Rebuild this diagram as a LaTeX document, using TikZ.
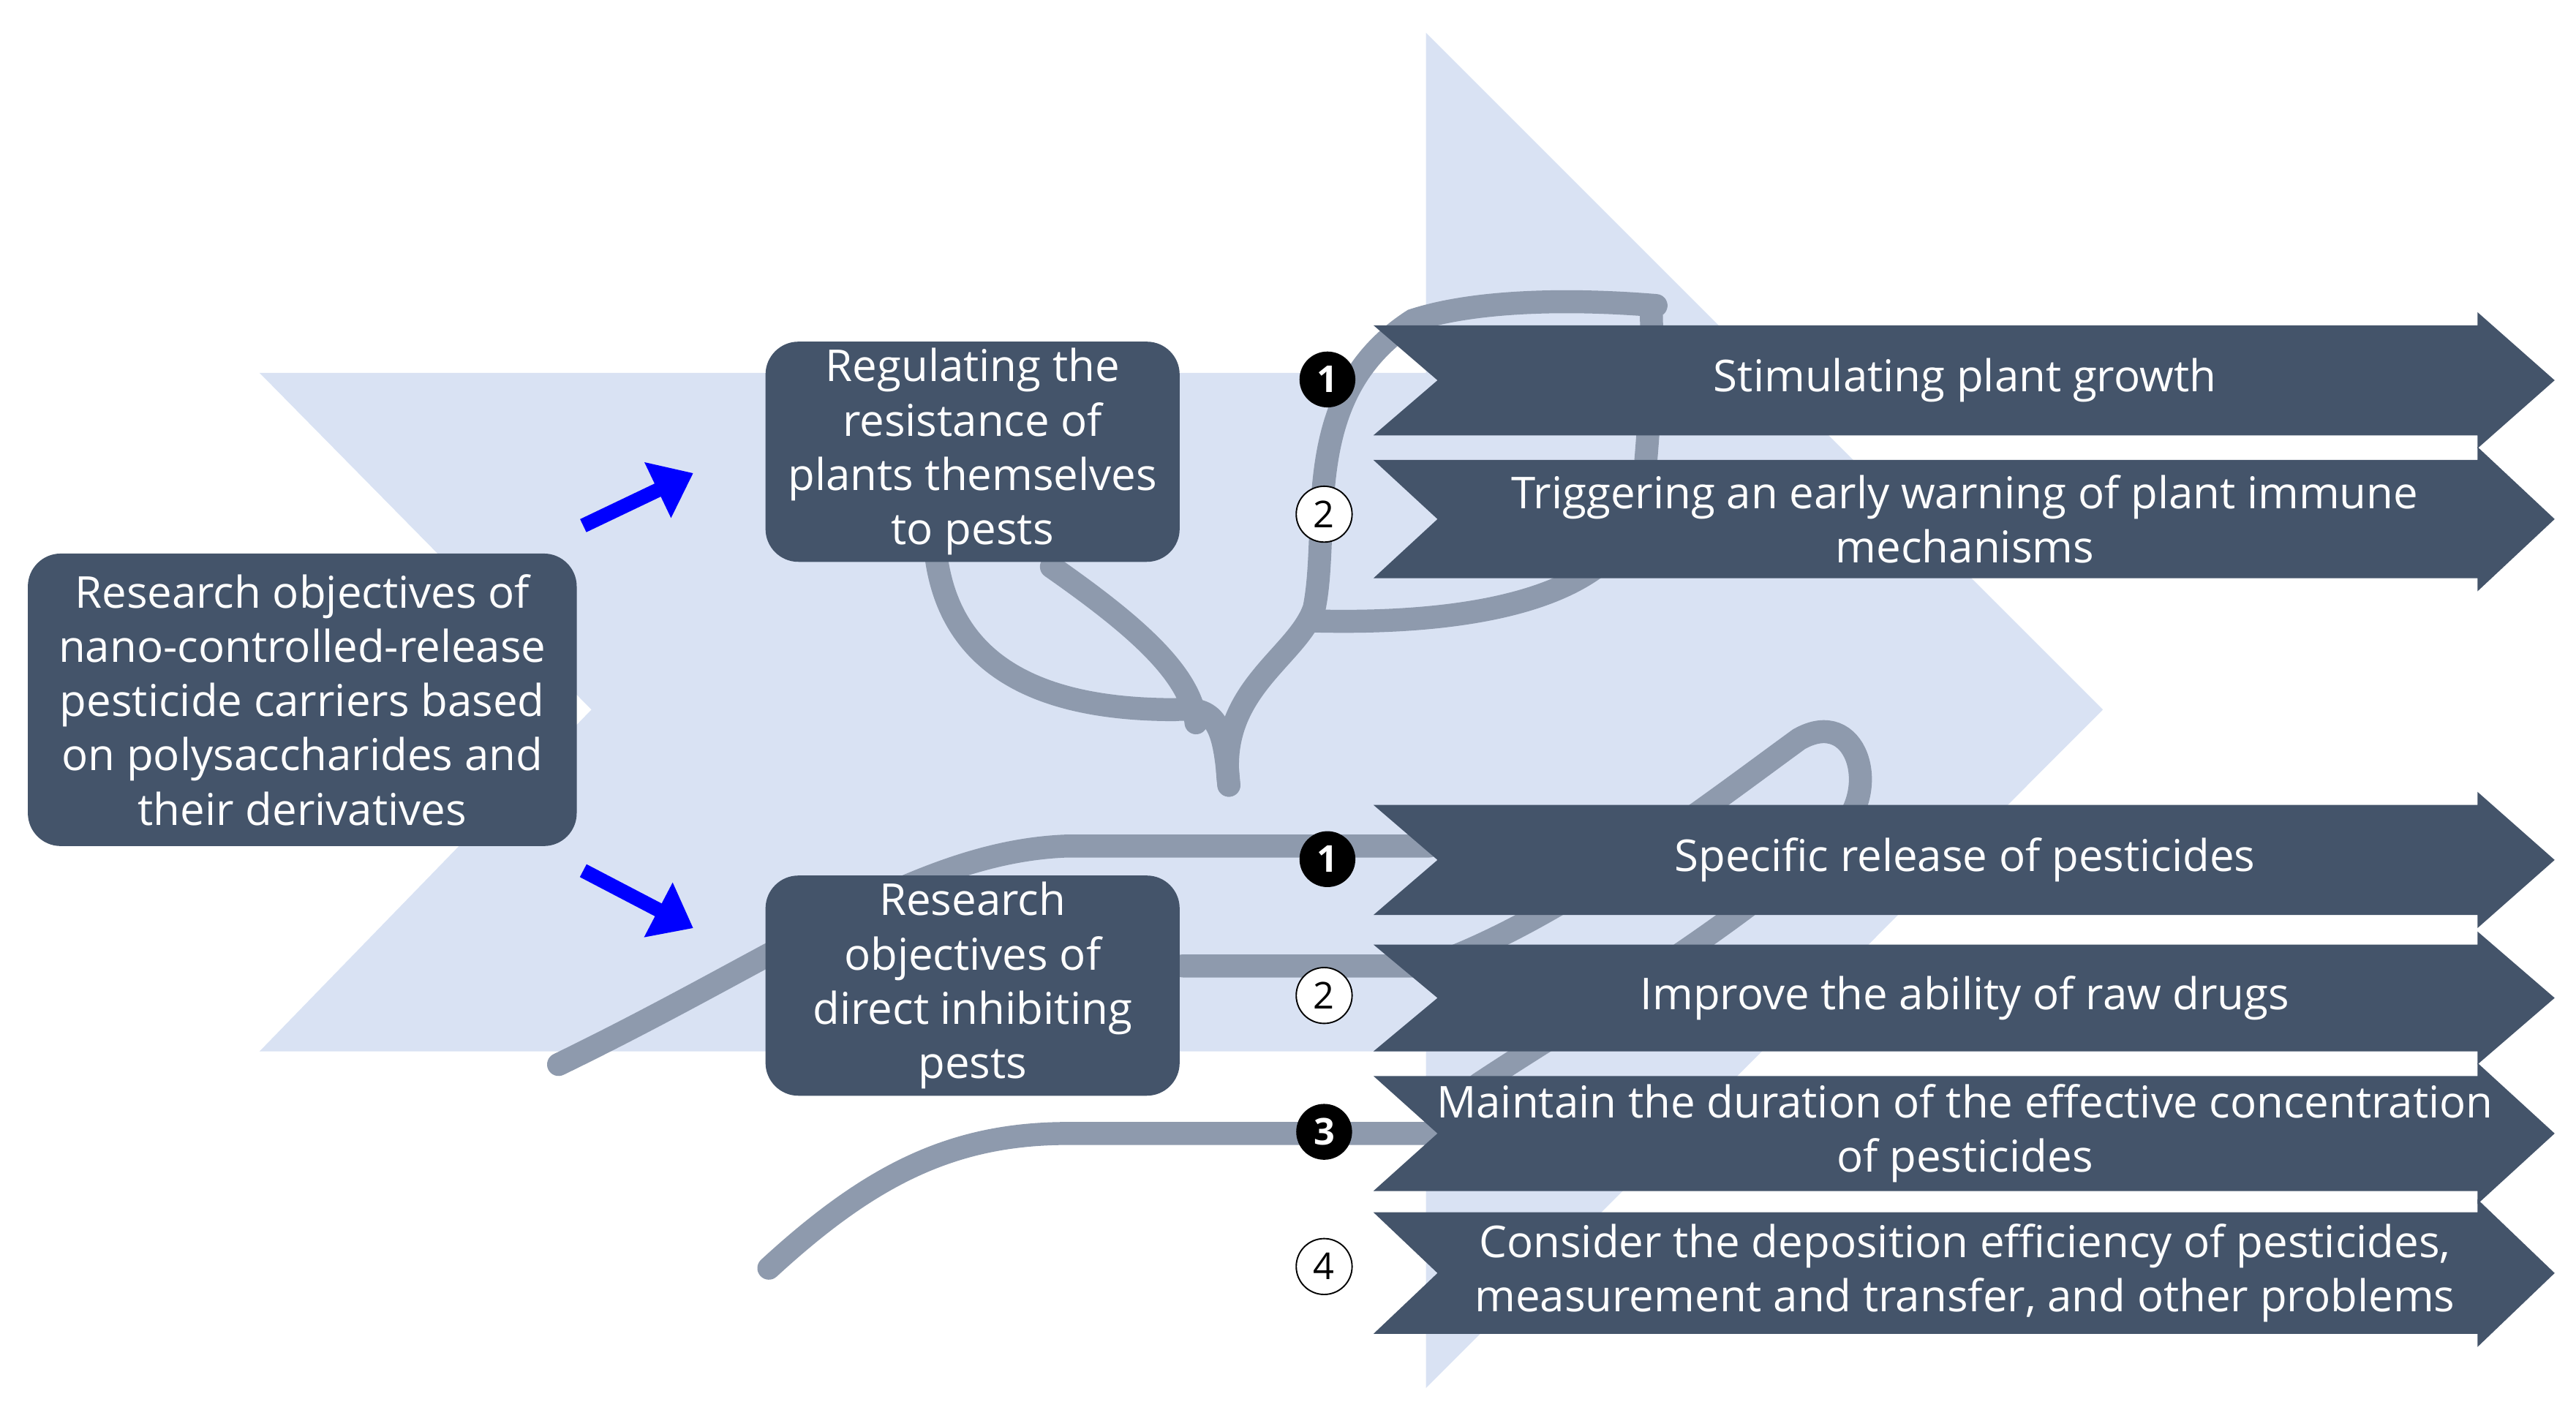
\documentclass[tikz,border=0pt]{standalone}
\usepackage{fontspec}
\setmainfont{Open Sans}
\usetikzlibrary{arrows.meta}
\definecolor{bgblue}{HTML}{D9E2F3}
\definecolor{dark}{HTML}{44546A}
\definecolor{stem}{HTML}{8E9AAD}
\begin{document}
\begin{tikzpicture}[x=0.025cm,y=-0.025cm,
 box/.style={fill=dark,rounded corners=0.5cm,text=white,align=center,font=\fontsize{19}{23.5}\selectfont,inner sep=0pt},
 txt/.style={text=white,align=center,font=\fontsize{19}{23.5}\selectfont},
 plant/.style={draw=stem,line width=0.35cm,line cap=round},
 barrow/.style={draw=blue,line width=0.22cm,-{Triangle[length=0.6cm,width=0.9cm]}},
 numf/.style={circle,fill=black,text=white,minimum size=0.85cm,inner sep=0pt,font=\bfseries\fontsize{16}{16}\selectfont},
 numo/.style={circle,draw=black,fill=white,text=black,minimum size=0.85cm,inner sep=0pt,line width=0.6pt,font=\fontsize{16}{16}\selectfont}]
\useasboundingbox (0,0) rectangle (1568,858);
\fill[bgblue] (158,227)--(868,227)--(868,20)--(1280,432)--(868,845)--(868,640)--(158,640)--(360,432)--cycle;
% plant
\draw[plant] (748,478) .. controls (740,420) and (790,400) .. (800,370) .. controls (810,320) and (790,240) .. (860,195) .. controls (900,182) and (960,182) .. (1008,186);
\draw[plant] (800,378) .. controls (880,380) and (990,370) .. (1000,300) .. controls (1005,250) and (1006,210) .. (1005,188);
\draw[plant] (748,478) .. controls (745,440) and (740,430) .. (715,432) .. controls (640,432) and (580,410) .. (570,340);
\draw[plant] (640,345) .. controls (690,380) and (725,410) .. (728,440);
\draw[plant] (340,648) .. controls (480,580) and (560,518) .. (650,515) -- (870,515);
\draw[plant] (720,588) -- (870,588) .. controls (950,560) and (1040,490) .. (1095,450) .. controls (1130,430) and (1145,480) .. (1120,505) .. controls (1050,570) and (960,620) .. (900,660);
\draw[plant] (468,772) .. controls (530,715) and (580,690) .. (650,690) -- (870,690);
% boxes
\node[box,minimum width=8.35cm,minimum height=4.45cm] (main) at (184,426) {Research objectives of\\nano-controlled-release\\pesticide carriers based\\on polysaccharides and\\their derivatives};
\node[box,minimum width=6.3cm,minimum height=3.35cm] (top) at (592,275) {Regulating the\\resistance of\\plants themselves\\to pests};
\node[box,minimum width=6.3cm,minimum height=3.35cm] (bot) at (592,600) {Research\\objectives of\\direct inhibiting\\pests};
\coordinate (a1) at (355,320); \coordinate (a1e) at (422,288);
\coordinate (a2) at (355,530); \coordinate (a2e) at (422,565);
\draw[barrow] (a1) -- (a1e);
\draw[barrow] (a2) -- (a2e);
% right arrows
\foreach \yt/\yb/\t/\n in {198/265/{Stimulating plant growth}/r1, 280/352/{Triggering an early warning of plant immune\\mechanisms}/r2, 490/557/{Specific release of pesticides}/r3, 575/640/{Improve the ability of raw drugs}/r4, 655/725/{Maintain the duration of the effective concentration\\of pesticides}/r5, 738/812/{Consider the deposition efficiency of pesticides,\\measurement and transfer, and other problems}/r6}{
 \fill[dark] (836,\yt)--(1508,\yt)--(1508,\yt-8)--(1555,{(\yt+\yb)/2})--(1508,\yb+8)--(1508,\yb)--(836,\yb)--(875,{(\yt+\yb)/2})--cycle;
 \node[txt] (\n) at (1196,{(\yt+\yb)/2}) {\t};
}
\node[numf] (n1) at (808,231) {1};
\node[numo] (n2) at (806,313) {2};
\node[numf] (n3) at (808,523) {1};
\node[numo] (n4) at (806,606) {2};
\node[numf] (n5) at (806,689) {3};
\node[numo] (n6) at (806,771) {4};
\end{tikzpicture}
\end{document}
